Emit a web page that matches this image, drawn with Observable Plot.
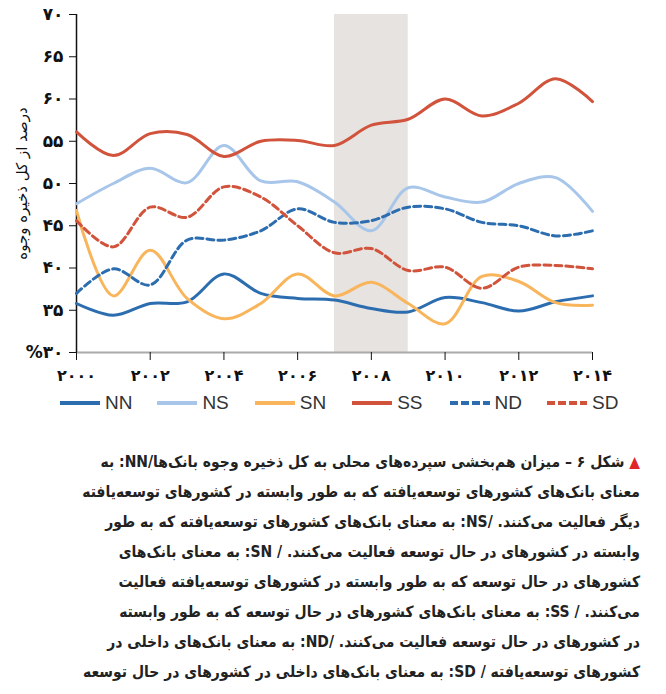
<!DOCTYPE html>
<html><head><meta charset="utf-8">
<script src="https://cdn.jsdelivr.net/npm/d3@7"></script>
<script src="https://cdn.jsdelivr.net/npm/@observablehq/plot@0.6"></script>
<style>
body{margin:0;background:#fff;width:666px;}
#legend{position:relative;height:22px;font-family:"Liberation Sans Narrow","Liberation Sans",Arial,sans-serif;font-size:19px;color:#333;}
.item{position:absolute;top:0;height:22px;display:flex;align-items:center;}
.item svg{margin-right:5px;}
#caption{direction:rtl;text-align:right;font-family:"DejaVu Sans Condensed","DejaVu Sans",sans-serif;font-weight:bold;font-size:15.5px;line-height:30px;color:#222;padding-right:26px;margin-top:33px;white-space:nowrap;}
#caption .tri{color:#e0262b;}
</style>
</head><body>
<div id="chart"></div>
<div id="legend"></div>
<div id="caption"></div>
<script>
const years = [2000,2001,2002,2003,2004,2005,2006,2007,2008,2009,2010,2011,2012,2013,2014];
const NN = [35.8,34.4,35.8,36.0,39.3,37.0,36.4,36.2,35.2,34.8,36.5,35.9,34.9,36.0,36.7];
const NS = [47.6,50.0,51.8,50.1,54.5,50.3,50.2,47.8,44.4,49.5,48.4,47.8,50.0,50.7,46.7];
const SN = [46.8,36.7,42.1,36.4,34.0,35.8,39.3,36.7,38.3,35.8,33.4,39.0,38.4,35.9,35.6];
const SS = [56.1,53.3,55.9,55.8,53.2,55.0,55.1,54.5,56.9,57.6,60.0,58.0,59.5,62.4,59.7];
const ND = [37.0,39.9,38.0,43.3,43.3,44.4,47.0,45.4,45.6,47.2,47.0,45.4,45.0,43.8,44.4];
const SD = [45.6,42.5,47.2,46.0,49.6,48.4,45.0,41.8,42.3,39.7,40.1,37.6,40.1,40.3,39.9];
const seriesNames = ["NN","NS","SN","SS","ND","SD"];
const seriesColors = ["#2c6db0","#a7c6ea","#f8b55c","#d1533b","#2c6db0","#d1533b"];
const seriesDashed = [false,false,false,false,true,true];
const xTicks = [2000,2002,2004,2006,2008,2010,2012,2014];
const yTicks = [30,35,40,45,50,55,60,65,70];
const band = [{start:2007, end:2009, lo:30, hi:70}];
const yTitle = "درصد از کل ذخیره وجوه";
const captionLines = [
  "شکل ۶ – میزان هم‌بخشی سپرده‌های محلی به کل ذخیره وجوه بانک‌ها/NN: به",
  "معنای بانک‌های کشورهای توسعه‌یافته که به طور وابسته در کشورهای توسعه‌یافته",
  "دیگر فعالیت می‌کنند. /NS: به معنای بانک‌های کشورهای توسعه‌یافته که به طور",
  "وابسته در کشورهای در حال توسعه فعالیت می‌کنند. / SN: به معنای بانک‌های",
  "کشورهای در حال توسعه که به طور وابسته در کشورهای توسعه‌یافته فعالیت",
  "می‌کنند. / SS: به معنای بانک‌های کشورهای در حال توسعه که به طور وابسته",
  "در کشورهای در حال توسعه فعالیت می‌کنند. /ND: به معنای بانک‌های داخلی در",
  "کشورهای توسعه‌یافته / SD: به معنای بانک‌های داخلی در کشورهای در حال توسعه"
];

const faDigits = "۰۱۲۳۴۵۶۷۸۹";
const fa = n => String(n).replace(/[0-9]/g, d => faDigits[+d]);

const valuesBySeries = {NN, NS, SN, SS, ND, SD};
const table = [];
seriesNames.forEach((s) => {
  valuesBySeries[s].forEach((v, j) => table.push({series: s, year: years[j], value: v}));
});

const lineMarks = seriesNames.map((s, i) => Plot.lineY(table.filter(d => d.series === s), {
  x: "year", y: "value", stroke: seriesColors[i], strokeWidth: 3,
  strokeDasharray: seriesDashed[i] ? "7,4" : null, curve: "catmull-rom"
}));

const chart = Plot.plot({
  width: 666, height: 392,
  marginTop: 14, marginBottom: 40, marginLeft: 76, marginRight: 74,
  x: {domain: [2000, 2014]},
  y: {domain: [30, 70]},
  style: {fontFamily: "DejaVu Sans, sans-serif", background: "white", color: "#111"},
  marks: [
    Plot.rect(band, {x1: "start", x2: "end", y1: "lo", y2: "hi", fill: "#e6e3e0"}),
    Plot.ruleY([30], {stroke: "#aaaaaa", strokeWidth: 2}),
    Plot.axisX({ticks: xTicks, tickFormat: fa, tickSize: 8, tickPadding: 9, fontSize: 16, fontWeight: "bold", label: null, stroke: "#111"}),
    Plot.axisY({ticks: yTicks, tickFormat: d => d === 30 ? "%" + fa(d) : fa(d), tickSize: 7, tickPadding: 6, fontSize: 17, fontWeight: "bold", label: null, stroke: "#111"}),
    Plot.axisY({ticks: [], label: yTitle, labelAnchor: "center", labelArrow: "none", labelOffset: 60, fontSize: 15}),
    Plot.ruleX([2000], {stroke: "#111", strokeWidth: 1.5}),
    ...lineMarks
  ]
});
document.getElementById("chart").appendChild(chart);

// legend
const legend = document.getElementById("legend");
seriesNames.forEach((s, i) => {
  const item = document.createElement("div");
  item.className = "item";
  item.style.left = (60 + i * 97.4) + "px";
  item.innerHTML = `<svg width="40" height="8"><line x1="0" y1="4" x2="40" y2="4" stroke="${seriesColors[i]}" stroke-width="4" ${seriesDashed[i] ? 'stroke-dasharray="8,3"' : ''}/></svg><span>${s}</span>`;
  legend.appendChild(item);
});

// caption
const cap = document.getElementById("caption");
cap.innerHTML = captionLines.map((l, i) => i === 0 ? `<span class="tri">▲</span> ${l}` : l).join("<br>");
</script>
</body></html>
